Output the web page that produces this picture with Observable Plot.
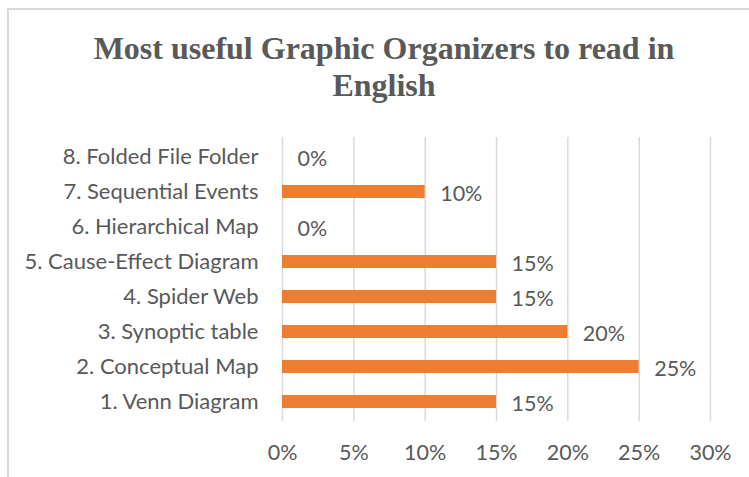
<!DOCTYPE html>
<html>
<head>
<meta charset="utf-8">
<script src="https://cdn.jsdelivr.net/npm/d3@7"></script>
<script src="https://cdn.jsdelivr.net/npm/@observablehq/plot@0.6"></script>
<style>
  html, body { margin: 0; padding: 0; background: #fff; }
  #wrap { position: relative; width: 749px; height: 477px; overflow: hidden; background: #fff; }
  #frame { position: absolute; left: 7px; top: 8px; width: 800px; height: 520px; border: 2px solid #d9d9d9; box-sizing: border-box; }
  #title { position: absolute; left: 0; top: 30px; width: 768px; text-align: center;
           font-family: "Liberation Serif", "Times New Roman", serif; font-weight: bold;
           font-size: 32px; line-height: 37px; color: #595959; }
  #chart { position: absolute; left: 0; top: 0; }
</style>
</head>
<body>
<div id="wrap">
  <div id="frame"></div>
  <div id="chart"></div>
  <div id="title">Most useful Graphic Organizers to read in<br>English</div>
</div>
<script>
const categories = [
  "1. Venn Diagram",
  "2. Conceptual Map",
  "3. Synoptic table",
  "4. Spider Web",
  "5. Cause-Effect Diagram",
  "6. Hierarchical Map",
  "7. Sequential Events",
  "8. Folded File Folder"
];
const values = [15, 25, 20, 15, 15, 0, 10, 0];
const xTicks = [0, 5, 10, 15, 20, 25, 30];

const data = categories.map((c, i) => ({cat: c, value: values[i]}));
const yOrder = categories.slice().reverse();

const plot = Plot.plot({
  width: 749,
  height: 477,
  marginLeft: 282,
  marginRight: 39,
  marginTop: 137,
  marginBottom: 56,
  style: {fontFamily: "Lato, sans-serif", color: "#595959", background: "transparent"},
  x: {domain: [0, 30], axis: null},
  y: {domain: yOrder, paddingInner: 0.63, paddingOuter: 0.315, axis: null},
  marks: [
    Plot.ruleX(xTicks, {stroke: "#d9d9d9", strokeWidth: 1.5}),
    Plot.barX(data, {x: "value", y: "cat", fill: "#ED7D31"}),
    Plot.text(data, {x: "value", y: "cat", text: d => d.value + "%", textAnchor: "start",
                     dx: 15, dy: 2, fontSize: 21.5, fill: "#595959"}),
    Plot.axisX({ticks: xTicks, tickFormat: d => d + "%", tickSize: 0, tickPadding: 23,
                fontSize: 21.5, fill: "#595959", label: null}),
    Plot.axisY({tickSize: 0, tickPadding: 24, fontSize: 22, fill: "#595959", label: null})
  ]
});
document.getElementById("chart").appendChild(plot);
</script>
</body>
</html>
